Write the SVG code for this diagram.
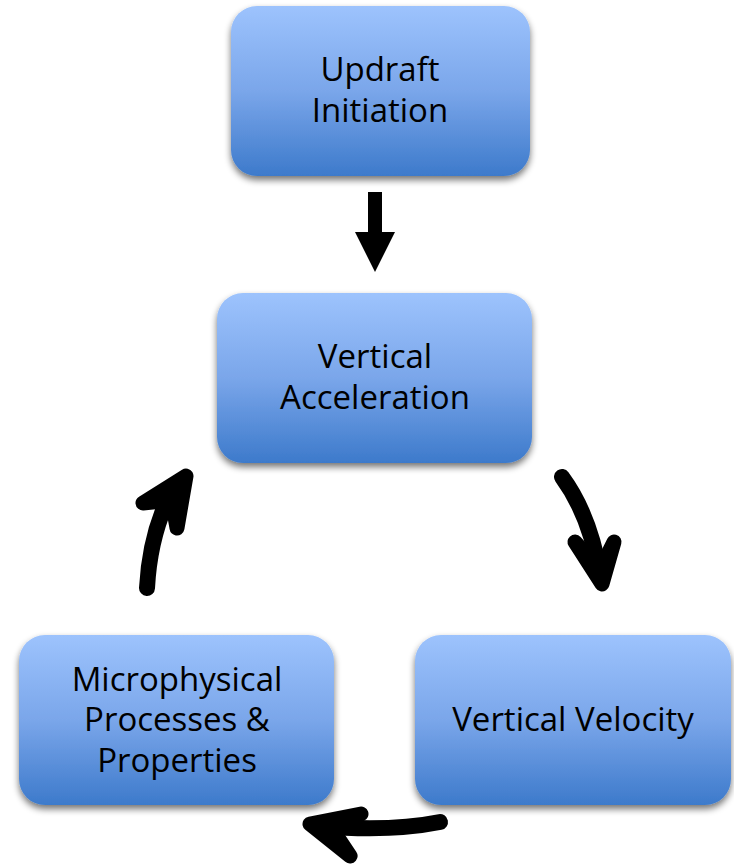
<svg xmlns="http://www.w3.org/2000/svg" width="734" height="866" viewBox="0 0 734 866">
<defs>
<linearGradient id="g" x1="0" y1="0" x2="0" y2="1">
<stop offset="0" stop-color="#9dc3fd"/>
<stop offset="0.5" stop-color="#7aa6ea"/>
<stop offset="1" stop-color="#3d7acb"/>
</linearGradient>
<filter id="sh" x="-10%" y="-10%" width="120%" height="130%">
<feGaussianBlur in="SourceAlpha" stdDeviation="3.5"/>
<feOffset dx="0" dy="4" result="b"/>
<feComponentTransfer><feFuncA type="linear" slope="0.55"/></feComponentTransfer>
<feMerge><feMergeNode/><feMergeNode in="SourceGraphic"/></feMerge>
</filter>
</defs>
<style>
.box{fill:url(#g);filter:url(#sh)}
.t{font-family:"Open Sans","Liberation Sans",sans-serif;font-size:33px;fill:#000;text-anchor:middle}
.sh{fill:none;stroke:#000;stroke-width:16;stroke-linecap:round}
.hd{fill:#000;stroke:#000;stroke-width:15;stroke-linejoin:round}
</style>
<rect width="734" height="866" fill="#fff"/>
<g id="updraft">
<rect class="box" x="231" y="6" width="299" height="170" rx="26"/>
<text class="t" x="380" y="81">Updraft</text>
<text class="t" x="380" y="122">Initiation</text>
</g>
<g id="accel">
<rect class="box" x="217" y="293" width="315" height="170" rx="26"/>
<text class="t" x="375" y="368">Vertical</text>
<text class="t" x="375" y="409">Acceleration</text>
</g>
<g id="micro">
<rect class="box" x="19" y="635" width="315" height="170" rx="26"/>
<text class="t" x="177" y="691">Microphysical</text>
<text class="t" x="177" y="731">Processes &amp;</text>
<text class="t" x="177" y="772">Properties</text>
</g>
<g id="velocity">
<rect class="box" x="415" y="635" width="316" height="170" rx="26"/>
<text class="t" x="573" y="731">Vertical Velocity</text>
</g>
<g id="connectors">
<polygon points="368,192 382,192 382,232 395,232 375,272 355,232 368,232" fill="#000"/>
<path class="sh" d="M562,477 Q590,515 600,575"/>
<path class="hd" d="M575,542 L602,584 L614,542 L600,570 Z"/>
<path class="sh" d="M147,588 Q150,530 175,485"/>
<path class="hd" d="M143,503 L186,476 L177,528 L172,500 Z"/>
<path class="sh" d="M440,822 Q390,832 320,826"/>
<path class="hd" d="M361,814 L310,824 L350,856 L330,826 Z"/>
</g>
</svg>
